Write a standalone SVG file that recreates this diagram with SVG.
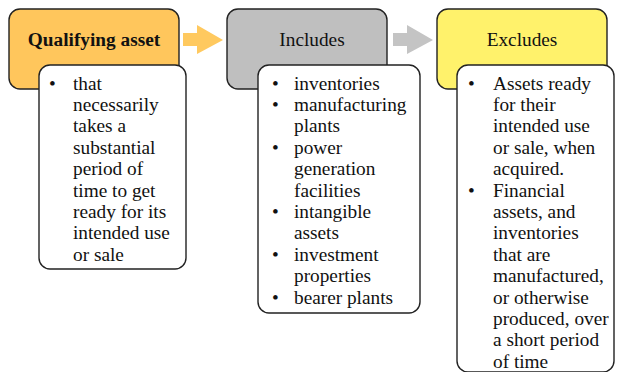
<svg xmlns="http://www.w3.org/2000/svg" width="621" height="372" viewBox="0 0 621 372">
<style>
.box{stroke:#222;stroke-width:1.4}
.sub{fill:#fff;stroke:#222;stroke-width:1.4}
text{font-family:'Liberation Serif','Times New Roman',Tinos,serif;font-size:19.3px;fill:#111}
.h{text-anchor:middle}
.b{font-weight:bold}
</style>
<rect width="621" height="372" fill="#fff"/>
<g id="connectors">
<polygon points="183,33 197,33 197,25 223,40 197,54 197,46 183,46" fill="#FFC95F"/>
<polygon points="393,33 407,33 407,25 433,40 407,54 407,46 393,46" fill="#C4C4C4"/>
</g>
<g id="qualifying" font-family="Liberation Serif, serif">
<rect class="box" x="9" y="9" width="170" height="80" rx="11" fill="#FFC65C"/>
<text class="h b" x="94" y="46">Qualifying asset</text>
<rect class="sub" x="39" y="65" width="147" height="204" rx="11"/>
<text x="49" y="89.5">•</text>
<text x="73" y="89.5">that</text>
<text x="73" y="110.9">necessarily</text>
<text x="73" y="132.3">takes a</text>
<text x="73" y="153.7">substantial</text>
<text x="73" y="175.1">period of</text>
<text x="73" y="196.5">time to get</text>
<text x="73" y="217.9">ready for its</text>
<text x="73" y="239.3">intended use</text>
<text x="73" y="260.7">or sale</text>
</g>
<g id="includes">
<rect class="box" x="227" y="9" width="160" height="80" rx="11" fill="#BFBFBF"/>
<text class="h" x="312" y="46">Includes</text>
<rect class="sub" x="258" y="65" width="162" height="248" rx="11"/>
<text x="272" y="89.5">•</text>
<text x="294" y="89.5">inventories</text>
<text x="272" y="110.9">•</text>
<text x="294" y="110.9">manufacturing</text>
<text x="294" y="132.3">plants</text>
<text x="272" y="153.7">•</text>
<text x="294" y="153.7">power</text>
<text x="294" y="175.1">generation</text>
<text x="294" y="196.5">facilities</text>
<text x="272" y="217.9">•</text>
<text x="294" y="217.9">intangible</text>
<text x="294" y="239.3">assets</text>
<text x="272" y="260.7">•</text>
<text x="294" y="260.7">investment</text>
<text x="294" y="282.1">properties</text>
<text x="272" y="303.5">•</text>
<text x="294" y="303.5">bearer plants</text>
</g>
<g id="excludes">
<rect class="box" x="437" y="9" width="170" height="80" rx="11" fill="#FFF26B"/>
<text class="h" x="522" y="46">Excludes</text>
<rect class="sub" x="457" y="65" width="157" height="307" rx="11"/>
<text x="468" y="89.5">•</text>
<text x="493" y="89.5">Assets ready</text>
<text x="493" y="110.9">for their</text>
<text x="493" y="132.3">intended use</text>
<text x="493" y="153.7">or sale, when</text>
<text x="493" y="175.1">acquired.</text>
<text x="468" y="196.5">•</text>
<text x="493" y="196.5">Financial</text>
<text x="493" y="217.9">assets, and</text>
<text x="493" y="239.3">inventories</text>
<text x="493" y="260.7">that are</text>
<text x="493" y="282.1">manufactured,</text>
<text x="493" y="303.5">or otherwise</text>
<text x="493" y="324.9">produced, over</text>
<text x="493" y="346.3">a short period</text>
<text x="493" y="367.7">of time</text>
</g>
</svg>
